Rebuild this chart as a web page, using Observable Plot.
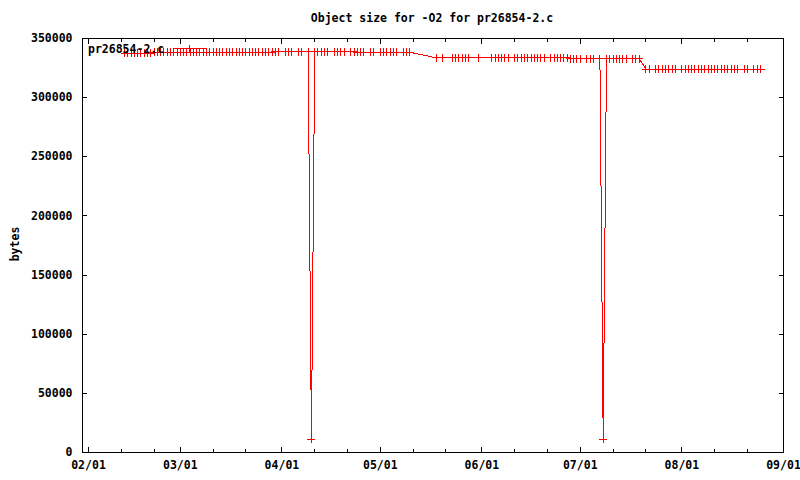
<!DOCTYPE html>
<html>
<head>
<meta charset="utf-8">
<script src="https://cdn.jsdelivr.net/npm/d3@7"></script>
<script src="https://cdn.jsdelivr.net/npm/@observablehq/plot@0.6"></script>
<style>
  html, body { margin: 0; padding: 0; background: #fff; }
  #wrap { position: relative; width: 800px; height: 480px; font-family: "DejaVu Sans Mono", monospace; font-weight: bold; font-size: 11.5px; color: #000; }
  #title { position: absolute; top: 11px; left: 0; width: 864px; text-align: center; line-height: 14px; white-space: pre; }
  #ylabel { position: absolute; left: -15px; top: 237px; width: 60px; height: 14px; line-height: 14px; text-align: center; transform: rotate(-90deg); }
  #key { position: absolute; left: 88px; top: 42px; line-height: 14px; white-space: pre; }
  #keysample { position: absolute; left: 0; top: 0; pointer-events: none; }
</style>
</head>
<body>
<div id="wrap">
  <div id="chart"></div>
  <div id="title"></div>
  <div id="ylabel"></div>
  <div id="key"></div>
  <svg id="keysample" width="800" height="480" shape-rendering="crispEdges">
    <g stroke="#ff0000" stroke-width="1" fill="none">
      <line x1="173" y1="48.5" x2="206" y2="48.5"></line>
      <line x1="185.5" y1="48.5" x2="193.5" y2="48.5"></line>
      <line x1="189.5" y1="44.5" x2="189.5" y2="52.5"></line>
    </g>
  </svg>
</div>
<script>
const titleText = "Object size for -O2 for pr26854-2.c";
const yLabel = "bytes";
const seriesName = "pr26854-2.c";
const year = "2006";

// Dates (MM-DD) of each measurement
const dates = [
  "02-12","02-13","02-14","02-15","02-16","02-17","02-18","02-19","02-20","02-21",
  "02-22","02-23","02-24","02-25","02-26","02-27","02-28",
  "03-01","03-02","03-03","03-04","03-05","03-06","03-07","03-08","03-09","03-10",
  "03-11","03-12","03-13","03-14","03-15","03-16","03-17","03-18","03-19","03-20",
  "03-21","03-22","03-23","03-24","03-25","03-26","03-27","03-28","03-29","03-30","03-31",
  "04-02","04-03","04-04","04-06","04-07","04-09","04-10","04-11","04-12","04-13","04-14","04-15",
  "04-17","04-18","04-19","04-20","04-22","04-23","04-24","04-25","04-26","04-28","04-29",
  "05-01","05-02","05-03","05-04","05-05","05-06","05-08","05-09","05-10",
  "05-18","05-20","05-23","05-24","05-25","05-26","05-27","05-28","05-31",
  "06-04","06-05","06-06","06-07","06-08","06-09","06-11","06-12","06-13","06-14","06-15",
  "06-16","06-17","06-18","06-19","06-20","06-22","06-23","06-24","06-25","06-26","06-27",
  "06-28","06-29","06-30",
  "07-01","07-03","07-04","07-05","07-07","07-08","07-09","07-10","07-11","07-12","07-13",
  "07-14","07-15","07-17","07-18","07-19",
  "07-21","07-22","07-24","07-25","07-26","07-27","07-28","07-29","07-30",
  "08-01","08-02","08-03","08-04","08-05","08-06","08-07","08-08","08-09","08-10","08-11",
  "08-12","08-13","08-14","08-15","08-16","08-17","08-18","08-20","08-21","08-23","08-24","08-25"
];

// Object size in bytes for each date above
const bytes = [
  337400,337400,337400,337400,337400,337400,337400,337400,337400,338300,
  338300,338300,338300,338300,338300,338300,338300,
  338300,338300,338300,338300,338300,338300,338300,338300,338300,338300,
  338300,338300,338300,338300,338300,338300,338300,338300,338300,338300,
  338300,338300,338300,338300,338300,338300,338300,338300,338300,339000,339000,
  339000,339000,339000,339000,339000,339000,11200,339000,339000,339000,339000,339000,
  339000,339000,339000,339000,339000,339000,338400,338400,338400,338400,338400,
  338400,338400,338400,338400,338400,338400,338400,338400,338400,
  333700,333700,333700,333700,333700,333700,333700,333700,333700,
  333700,333700,333700,333700,333700,333700,333700,333700,333700,333700,333700,
  333700,333700,333700,333700,333700,333700,333700,333700,333700,333700,333700,
  332900,332900,332900,
  332900,332900,332900,332900,332900,11400,332900,332900,332900,332900,332900,
  332900,332900,332900,332900,332900,
  324200,324200,324200,324200,324200,324200,324200,324200,324200,
  324200,324200,324200,324200,324200,324200,324200,324200,324200,324200,324200,
  324200,324200,324200,324200,324200,324200,324200,324200,324200,324200,324200,324200
];

const monthTicks = ["02-01","03-01","04-01","05-01","06-01","07-01","08-01","09-01"];
const minorTicks = ["02-11","02-21","03-11","03-21","04-11","04-21","05-11","05-21",
                    "06-11","06-21","07-11","07-21","08-11","08-21"];
const yTicks = [0, 50000, 100000, 150000, 200000, 250000, 300000, 350000];
const xStart = "01-30T04:00";
const xEnd = "09-01T00:00";

const toDate = s => new Date(`${year}-${s}${s.includes("T") ? "" : "T00:00"}Z`);
const data = dates.map((d, i) => ({date: toDate(d), value: bytes[i]}));
const majors = monthTicks.map(toDate);
const minors = minorTicks.map(toDate);
const fmt = d3.utcFormat("%m/%d");

document.getElementById("title").textContent = titleText;
document.getElementById("ylabel").textContent = yLabel;
document.getElementById("key").textContent = seriesName;

const chart = Plot.plot({
  width: 800,
  height: 480,
  marginLeft: 82,
  marginRight: 17,
  marginTop: 38,
  marginBottom: 28,
  x: {type: "utc", domain: [toDate(xStart), toDate(xEnd)]},
  y: {domain: [0, 350000]},
  style: {fontFamily: "'DejaVu Sans Mono', monospace", fontSize: "11.5px", fontWeight: "bold", background: "white", color: "black", overflow: "visible"},
  marks: [
    Plot.axisX({anchor: "bottom", ticks: majors, tickSize: 0, tickPadding: 8, tickFormat: fmt, label: null}),
    Plot.axisX({anchor: "bottom", ticks: majors, tickSize: 5, insetBottom: 5, fill: "none", label: null, shapeRendering: "crispEdges"}),
    Plot.axisX({anchor: "top", ticks: majors, tickSize: 5, insetTop: 5, fill: "none", label: null, shapeRendering: "crispEdges"}),
    Plot.axisX({anchor: "bottom", ticks: minors, tickSize: 3, insetBottom: 3, fill: "none", label: null, shapeRendering: "crispEdges"}),
    Plot.axisX({anchor: "top", ticks: minors, tickSize: 3, insetTop: 3, fill: "none", label: null, shapeRendering: "crispEdges"}),
    Plot.axisY({anchor: "left", ticks: yTicks, tickSize: 0, tickPadding: 10, tickFormat: d => String(d), label: null}),
    Plot.axisY({anchor: "left", ticks: yTicks, tickSize: 5, insetLeft: 5, fill: "none", label: null, shapeRendering: "crispEdges"}),
    Plot.axisY({anchor: "right", ticks: yTicks, tickSize: 5, insetRight: 5, fill: "none", label: null, shapeRendering: "crispEdges"}),
    Plot.frame({stroke: "black", shapeRendering: "crispEdges"}),
    Plot.line(data, {x: "date", y: "value", stroke: "#ff0000", strokeWidth: 1, shapeRendering: "crispEdges"}),
    Plot.dot(data, {x: "date", y: "value", symbol: "plus", r: 2.7, stroke: "#ff0000", strokeWidth: 1, shapeRendering: "crispEdges"})
  ]
});
document.getElementById("chart").appendChild(chart);
</script>
</body>
</html>
